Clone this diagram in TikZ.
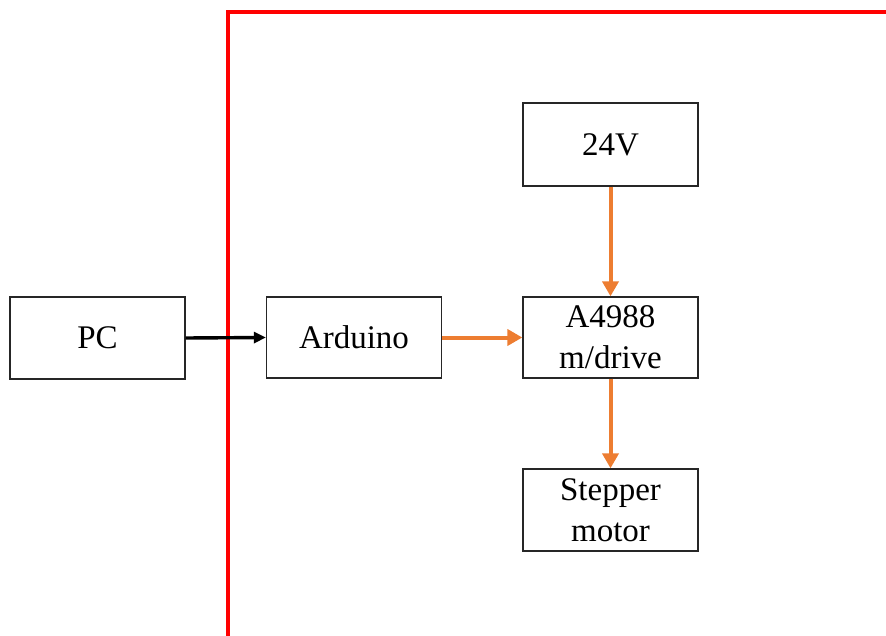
\documentclass[tikz,border=0pt]{standalone}
\usepackage{fontspec}
\setmainfont{Liberation Serif}
\usetikzlibrary{arrows.meta}
\definecolor{arrorange}{RGB}{237,125,49}
\tikzset{
  blockbox/.style={draw=black!85, line width=1.3pt, minimum width=175pt, minimum height=82pt, inner sep=0pt, align=center, font=\fontsize{33}{41}\selectfont},
  orangearrow/.style={draw=arrorange, line width=4pt, -{Triangle[length=15pt,width=16pt]}},
  blackarrow/.style={draw=black, line width=3.4pt, -{Triangle[length=12pt,width=11pt]}},
  redframe/.style={draw=red, line width=4pt, line join=miter}
}
\begin{document}
\begin{tikzpicture}[x=1pt,y=-1pt]
\useasboundingbox (0,0) rectangle (886,636);
\begin{scope}
\clip (0,0) rectangle (886,636);
\draw[redframe] (228,645) -- (228,12) -- (895,12);
\end{scope}
\node[blockbox] (pc) at (97.5,338) {PC};
\node[blockbox, minimum height=81pt] (ard) at (354,337.5) {Arduino};
\node[blockbox, minimum height=83pt] (v24) at (610.5,144.5) {24V};
\node[blockbox, minimum height=81pt] (drv) at (610.5,337.5) {A4988\\m/drive};
\node[blockbox] (mot) at (610.5,510) {Stepper\\motor};
\draw[blackarrow] (pc.east) -- (ard.west);
\draw[orangearrow] (ard.east) -- (drv.west);
\draw[orangearrow] (v24.south) -- (drv.north);
\draw[orangearrow] (drv.south) -- (mot.north);
\end{tikzpicture}
\end{document}
